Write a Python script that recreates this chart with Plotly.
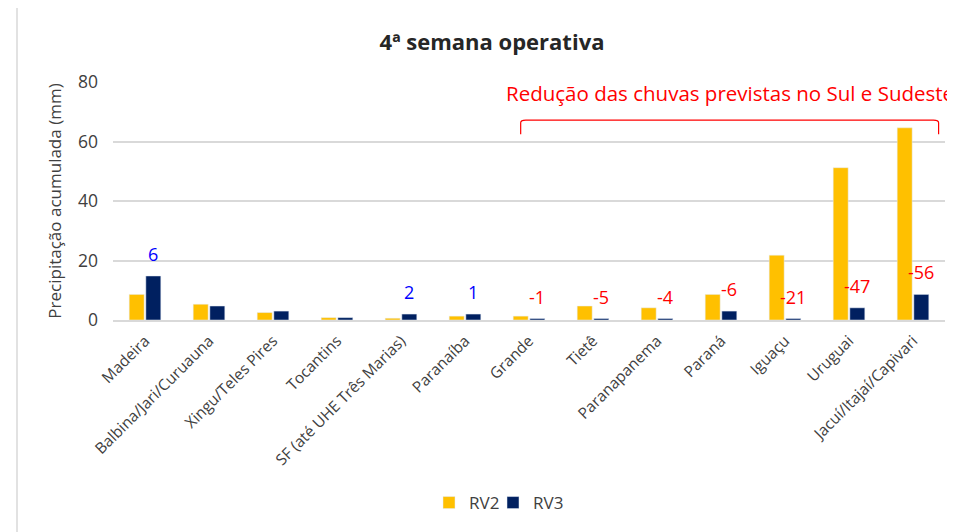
import plotly.graph_objects as go

categories = ["Madeira", "Balbina/Jari/Curuauna", "Xingu/Teles Pires", "Tocantins",
              "SF (até UHE Três Marias)", "Paranaíba", "Grande", "Tietê", "Paranapanema",
              "Paraná", "Iguaçu", "Uruguai", "Jacuí/Itajaí/Capivari"]
rv2 = [8.6, 5.3, 2.5, 0.8, 0.6, 1.3, 1.3, 4.7, 4.1, 8.6, 21.8, 51.2, 64.6]
rv3 = [14.8, 4.7, 3.0, 0.8, 2.0, 2.0, 0.5, 0.5, 0.5, 3.0, 0.5, 4.1, 8.6]
diff_labels = [6, None, None, None, 2, 1, -1, -5, -4, -6, -21, -47, -56]

OFF = 8  # page body margin
W, H = 955 - OFF, 532 - OFF
ML, MT = 113 - OFF, 82 - OFF
PW, PH = 832, 238
MR = W - ML - PW
MB = H - MT - PH

def px_x(px):  # page pixel -> paper x
    return (px - OFF - ML) / PW

def px_y(py):  # page pixel -> paper y
    return (MT + PH - (py - OFF)) / PH

fig = go.Figure()
fig.add_trace(go.Bar(x=categories, y=rv2, name="RV2", marker_color="#FFC000"))
fig.add_trace(go.Bar(x=categories, y=rv3, name="RV3", marker_color="#002060"))
# invisible spacer entry so the last legend label is not clipped
fig.add_trace(go.Scatter(x=[None], y=[None], name=" ", mode="markers",
                         marker=dict(color="rgba(0,0,0,0)", size=1), hoverinfo="skip"))

slot = PW / len(categories)
bar_off = slot * (1 - 0.48) / 4
for cat, v3, d in zip(categories, rv3, diff_labels):
    if d is None:
        continue
    fig.add_annotation(x=cat, y=v3, xref="x", yref="y", text=str(d), showarrow=False,
                       xshift=bar_off, yshift=22,
                       font=dict(size=18, color="#0000FF" if d > 0 else "#FF0000",
                                 family="Open Sans"))

# bracket over south/southeast
fig.add_shape(type="path", xref="x", yref="y",
              path="M 5.87,62.4 L 5.87,66.3 Q 5.87,67.2 5.95,67.2 L 12.32,67.2 Q 12.4,67.2 12.4,66.3 L 12.4,62.4",
              line=dict(color="#FF0000", width=1.2))
fig.add_annotation(x=px_x(504), y=px_y(93), xref="paper", yref="paper",
                   text="Redução das chuvas previstas no Sul e Sudeste", showarrow=False,
                   xanchor="left", yanchor="middle",
                   font=dict(size=20.5, color="#FF0000", family="Open Sans"))

# chart border
fig.add_shape(type="rect", xref="paper", yref="paper",
              x0=px_x(17), x1=1.2, y0=-1.5, y1=px_y(6),
              line=dict(color="#D9D9D9", width=1.5), layer="below")

fig.update_layout(
    width=W, height=H,
    margin=dict(l=ML, r=MR, t=MT, b=MB, autoexpand=False),
    paper_bgcolor="white", plot_bgcolor="white",
    barmode="group", bargap=0.48, bargroupgap=0.1,
    title=dict(text="<b>4ª semana operativa</b>", x=(492 - OFF) / W, xanchor="center",
               y=1 - (42 - OFF) / H, yanchor="middle",
               font=dict(size=22, color="#262626", family="Open Sans")),
    font=dict(family="Open Sans", color="#404040"),
    legend=dict(orientation="h", x=(429 - OFF) / W, xanchor="left", xref="container",
                y=1 - (503 - OFF) / H, yref="container", yanchor="middle",
                font=dict(size=17, color="#404040"), itemwidth=30,
                entrywidth=19, traceorder="normal", bgcolor="rgba(0,0,0,0)"),
    xaxis=dict(tickangle=-45, tickfont=dict(size=15.5, color="#404040"),
               ticklabelstandoff=4,
               showline=True, linecolor="#D9D9D9", linewidth=1.5, showgrid=False),
    yaxis=dict(range=[0, 80], dtick=20, tickfont=dict(size=17.5, color="#404040"),
               gridcolor="#D9D9D9", gridwidth=1.5, zeroline=False,
               ticklabelstandoff=14,
               title=dict(text="Precipitação acumulada (mm)", standoff=12,
                          font=dict(size=17, color="#404040"))),
)

fig.write_html("out.html")
